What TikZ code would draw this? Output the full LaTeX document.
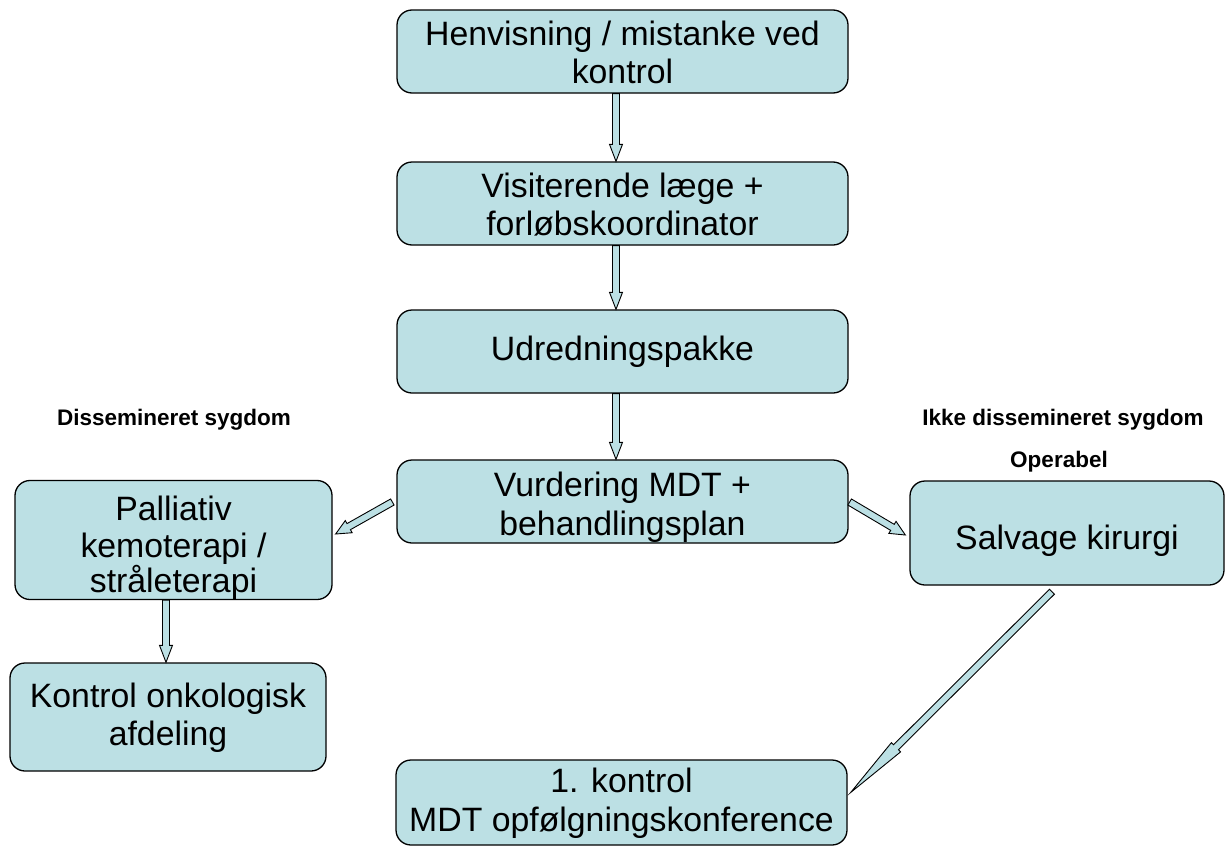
\documentclass[tikz,border=0pt]{standalone}
\usepackage{fontspec}
\setmainfont{Liberation Sans}
\usetikzlibrary{calc}
\definecolor{boxblue}{RGB}{188,224,228}
\tikzset{
  flowbox/.style={draw=black, line width=1.3pt, fill=boxblue, rounded corners=15pt,
    align=center, inner sep=0pt, font=\fontsize{33.8}{38.5}\selectfont},
  blockarrow/.style={draw=black, line width=0.9pt, fill=boxblue, line join=miter},
  sidelabel/.style={font=\fontsize{22.5}{26}\selectfont\bfseries, inner sep=0pt}
}
\newcommand\barrow[5]{%
  \path ($(#2)!#5!(#1)$) coordinate (hbase);
  \draw[blockarrow] ($(#1)!#3!90:(#2)$) -- ($(hbase)!#3!90:(#2)$) -- ($(hbase)!#4!90:(#2)$)
    -- (#2) -- ($(hbase)!#4!-90:(#2)$) -- ($(hbase)!#3!-90:(#2)$) -- ($(#1)!#3!-90:(#2)$) -- cycle;}
\newcommand\pushdown[1]{\rule{0pt}{\dimexpr 24pt+#1\relax}}
\begin{document}
\begin{tikzpicture}[x=1pt,y=-1pt]
\useasboundingbox (0,0) rectangle (1226,846);
\node[flowbox, minimum width=451pt, minimum height=83pt] (b1) at (622.5,51.5) {\pushdown{2pt}Henvisning / mistanke ved\\kontrol};
\node[flowbox, minimum width=451pt, minimum height=83pt] (b2) at (622.5,203.5) {\pushdown{3pt}Visiterende læge +\\forløbskoordinator};
\node[flowbox, minimum width=451pt, minimum height=83pt] (b3) at (622.5,351.5) {Udredningspakke};
\node[flowbox, minimum width=451pt, minimum height=83pt] (b4) at (622.5,501.5) {\pushdown{12pt}Vurdering MDT +\\behandlingsplan};
\node[flowbox, minimum width=317pt, minimum height=118pt] (pal) at (173.5,540) {\pushdown{16pt}Palliativ\\[-2pt]kemoterapi /\\[-3pt]stråleterapi};
\node[flowbox, minimum width=316pt, minimum height=108pt] (onk) at (168,717) {\pushdown{2pt}Kontrol onkologisk\\afdeling};
\node[flowbox, minimum width=314pt, minimum height=104pt] (salv) at (1067,533) {\pushdown{16pt}Salvage kirurgi};
\node[flowbox, minimum width=451pt, minimum height=85pt] (k1) at (621.5,802.5) {\pushdown{2pt}1. kontrol\\MDT opfølgningskonference};

\node[sidelabel] (l1) at (174,420) {Dissemineret sygdom};
\node[sidelabel] (l2) at (1063,420) {Ikke dissemineret sygdom};
\node[sidelabel] (l3) at (1059,462) {Operabel};

\coordinate (a1t) at ($(b1.south)+(-6.5,0)$);
\coordinate (a1h) at ($(b2.north)+(-6.5,0)$);
\coordinate (a2t) at ($(b2.south)+(-6.5,0)$);
\coordinate (a2h) at ($(b3.north)+(-6.5,0)$);
\coordinate (a3t) at ($(b3.south)+(-6.5,0)$);
\coordinate (a3h) at ($(b4.north)+(-6.5,0)$);
\coordinate (a4t) at ($(b4.west)+(-4,0.5)$);
\coordinate (a4h) at ($(pal.east)+(3,-6)$);
\coordinate (a5t) at ($(b4.east)+(1,0.5)$);
\coordinate (a5h) at ($(salv.west)+(-4,2)$);
\coordinate (a6t) at ($(pal.south)+(-7.5,0)$);
\coordinate (a6h) at ($(onk.north)+(-2,0)$);
\coordinate (a7t) at ($(salv.south)+(-15,6)$);
\coordinate (a7h) at ($(k1.east)+(3,-10)$);

\barrow{a1t}{a1h}{3.5pt}{6.5pt}{17pt}
\barrow{a2t}{a2h}{3.5pt}{6.5pt}{17pt}
\barrow{a3t}{a3h}{3.5pt}{6.5pt}{17pt}
\barrow{a6t}{a6h}{3.5pt}{6.5pt}{17pt}
\barrow{a4t}{a4h}{3.5pt}{7pt}{15pt}
\barrow{a5t}{a5h}{3.5pt}{7pt}{15pt}
\barrow{a7t}{a7h}{3.5pt}{6.5pt}{64pt}
\end{tikzpicture}
\end{document}
